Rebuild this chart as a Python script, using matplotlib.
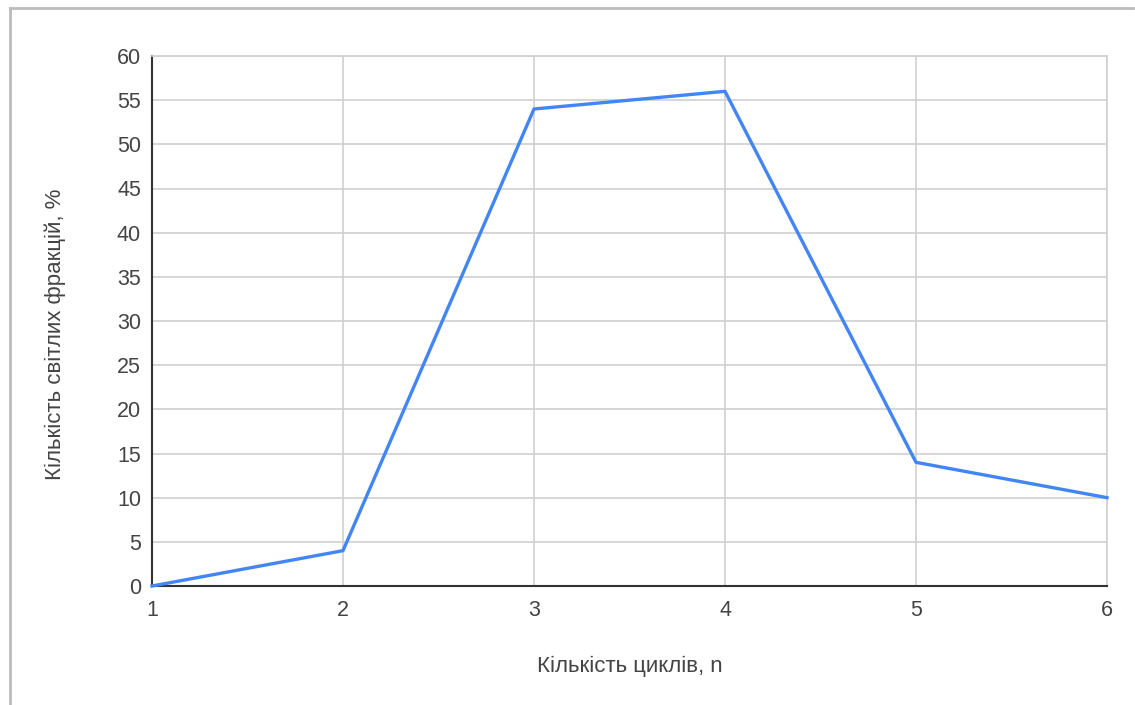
import matplotlib
matplotlib.use("Agg")
import matplotlib.pyplot as plt
from matplotlib.lines import Line2D

cycles = [1, 2, 3, 4, 5, 6]
light_fraction = [0, 4, 54, 56, 14, 10]
y_ticks = list(range(0, 61, 5))

plt.rcParams["font.family"] = ["Liberation Sans", "DejaVu Sans"]
TEXT = "#444444"

fig = plt.figure(figsize=(11.35, 7.05), dpi=100)
ax = fig.add_axes([152/1135, 1 - 586/705, (1107 - 152)/1135, (586 - 56)/705])

ax.plot(cycles, light_fraction, color="#4285f4", lw=2.4, solid_joinstyle="round", clip_on=False, zorder=3)

ax.set_xlim(1, 6)
ax.set_ylim(0, 60)
ax.set_xticks(cycles)
ax.set_yticks(y_ticks)
ax.grid(True, color="#d0d0d0", lw=1.2)
ax.set_axisbelow(True)
for side in ("top", "right"):
    ax.spines[side].set_color("#d0d0d0")
    ax.spines[side].set_linewidth(1.2)
for side in ("left", "bottom"):
    ax.spines[side].set_color("#333333")
    ax.spines[side].set_linewidth(1.5)
ax.tick_params(length=0, labelsize=15.5, labelcolor=TEXT, pad=8)
ax.tick_params(axis="x", pad=10)

ax.set_xlabel("Кількість циклів, n", fontsize=16, color=TEXT, labelpad=25.5)
ax.set_ylabel("Кількість світлих фракцій, %", fontsize=16, color=TEXT)
ax.yaxis.set_label_coords(-0.090, 0.474)

# outer frame (top and left edges only visible)
fig.add_artist(Line2D([10/1135, 1133/1135], [1 - 8/705, 1 - 8/705], transform=fig.transFigure, color="#bbbbbb", lw=2))
fig.add_artist(Line2D([10/1135, 10/1135], [0, 1 - 8/705], transform=fig.transFigure, color="#bbbbbb", lw=2))

fig.savefig("out.png", dpi=100)
